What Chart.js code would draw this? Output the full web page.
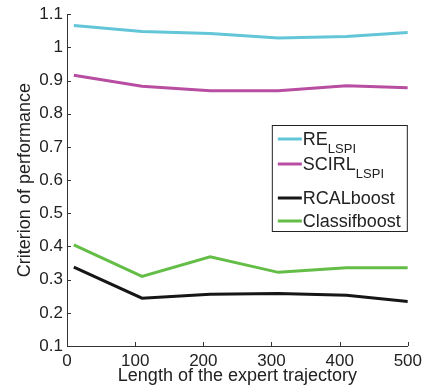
<!DOCTYPE html>
<html lang="en">
  <head>
    <meta charset="UTF-8" />
    <title>Criterion of performance</title>
    <script src="https://cdn.jsdelivr.net/npm/chart.js"></script>
    <style>
      html, body { margin: 0; padding: 0; background: #fff; }
      #wrap { width: 427px; height: 387px; position: relative; }
    </style>
  </head>
  <body>
    <div id="wrap"><canvas id="chart"></canvas></div>
    <script>
      // expert trajectory lengths
      const lengths = [10, 110, 210, 310, 410, 500];

      const reLspi = [1.066, 1.048, 1.042, 1.028, 1.033, 1.045];
      const scirlLspi = [0.916, 0.883, 0.869, 0.869, 0.884, 0.878];
      const rcalBoost = [0.338, 0.244, 0.256, 0.258, 0.253, 0.234];
      const classifBoost = [0.405, 0.310, 0.369, 0.322, 0.336, 0.336];

      const seriesNames = ["RE", "SCIRL", "RCALboost", "Classifboost"];
      const seriesSubs = ["LSPI", "LSPI", "", ""];
      const seriesColors = ["#62c6d8", "#b84ea2", "#161616", "#64bd46"];

      const xTicks = [0, 100, 200, 300, 400, 500];
      const yMin = 0.1, yMax = 1.1;

      const font = "'Liberation Sans', Arial, sans-serif";

      function pts(ys) {
        return ys.map((y, i) => ({ x: lengths[i], y: y }));
      }

      // MATLAB-like inward ticks
      const inwardTicks = {
        id: "inwardTicks",
        afterDatasetsDraw(chart) {
          const c = chart.ctx, a = chart.chartArea;
          const xs = chart.scales.x, ys = chart.scales.y;
          c.save();
          c.strokeStyle = "#333";
          c.lineWidth = 1;
          c.beginPath();
          xTicks.forEach((v) => {
            const px = Math.round(xs.getPixelForValue(v)) + 0.5;
            c.moveTo(px, a.bottom);
            c.lineTo(px, a.bottom - 4);
          });
          ys.ticks.forEach((t) => {
            const py = Math.round(ys.getPixelForValue(t.value)) + 0.5;
            c.moveTo(a.left, py);
            c.lineTo(a.left + 4, py);
          });
          c.stroke();
          c.restore();
        },
      };

      // boxed legend with subscripts
      const boxLegend = {
        id: "boxLegend",
        afterDraw(chart) {
          const c = chart.ctx, a = chart.chartArea;
          const left = a.right - 136, top = 125, w = 136, h = 107;
          c.save();
          c.fillStyle = "#fff";
          c.fillRect(left, top, w, h);
          c.strokeStyle = "#222";
          c.lineWidth = 1;
          c.strokeRect(left + 0.5, top + 0.5, w - 1, h - 1);
          const rows = [139, 164, 198, 221];
          seriesNames.forEach((name, i) => {
            const y = rows[i];
            c.strokeStyle = seriesColors[i];
            c.lineWidth = 3;
            c.beginPath();
            c.moveTo(left + 6, y);
            c.lineTo(left + 30, y);
            c.stroke();
            c.fillStyle = "#222";
            c.textBaseline = "middle";
            c.textAlign = "left";
            c.font = "18px " + font;
            c.fillText(name, left + 31, y + 1);
            if (seriesSubs[i]) {
              const wName = c.measureText(name).width;
              c.font = "13px " + font;
              c.fillText(seriesSubs[i], left + 31 + wName, y + 10);
            }
          });
          c.restore();
        },
      };

      const ctx = document.getElementById("chart");
      new Chart(ctx, {
        type: "line",
        data: {
          datasets: [reLspi, scirlLspi, rcalBoost, classifBoost].map((d, i) => ({
            label: seriesNames[i],
            data: pts(d),
            borderColor: seriesColors[i],
            backgroundColor: seriesColors[i],
            borderWidth: 3,
            pointRadius: 0,
            tension: 0,
            fill: false,
          })),
        },
        options: {
          responsive: true,
          maintainAspectRatio: false,
          animation: false,
          layout: { padding: { top: 13, right: 18, left: 0, bottom: 0 } },
          plugins: { legend: { display: false }, tooltip: { enabled: false } },
          scales: {
            x: {
              type: "linear",
              min: 0,
              max: 500,
              afterBuildTicks(scale) {
                scale.ticks = xTicks.map((v) => ({ value: v }));
              },
              afterFit(scale) { scale.height = 41; },
              grid: { display: false, drawTicks: false },
              border: { display: true, color: "#333", width: 1 },
              ticks: {
                color: "#222",
                font: { family: font, size: 17 },
                padding: 5,
                maxRotation: 0,
                callback: (v) => String(v),
              },
              title: {
                display: true,
                text: "Length of the expert trajectory",
                color: "#222",
                font: { family: font, size: 18 },
                padding: { top: 0, bottom: 0 },
              },
            },
            y: {
              min: yMin,
              max: yMax,
              afterFit(scale) { scale.width = 67; },
              grid: { display: false, drawTicks: false },
              border: { display: true, color: "#333", width: 1 },
              ticks: {
                stepSize: 0.1,
                color: "#222",
                font: { family: font, size: 17 },
                padding: 4,
                callback: (v) => String(+v.toFixed(1)),
              },
              title: {
                display: true,
                text: "Criterion of performance",
                color: "#222",
                font: { family: font, size: 18 },
                padding: { top: 14, bottom: 0 },
              },
            },
          },
        },
        plugins: [inwardTicks, boxLegend],
      });
    </script>
  </body>
</html>
